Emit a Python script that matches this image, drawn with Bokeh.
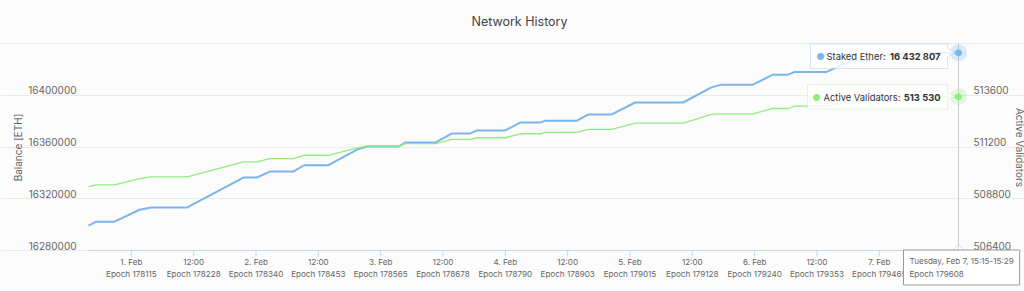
import math
import pandas as pd
from bokeh.plotting import figure
from bokeh.core.properties import value
from bokeh.models import Range1d, FixedTicker, Grid, Label, PolyAnnotation
from bokeh.embed import file_html
from bokeh.resources import INLINE

# ---------------- data ----------------
times = [
    "2023-01-31 15:45", "2023-01-31 17:15", "2023-01-31 20:45", "2023-02-01 01:35",
    "2023-02-01 03:50", "2023-02-01 10:45", "2023-02-01 21:35", "2023-02-02 00:10",
    "2023-02-02 02:40", "2023-02-02 07:10", "2023-02-02 09:15", "2023-02-02 13:55",
    "2023-02-02 19:45", "2023-02-02 21:25", "2023-02-03 03:30", "2023-02-03 04:50",
    "2023-02-03 10:35", "2023-02-03 13:45", "2023-02-03 17:15", "2023-02-03 18:35",
    "2023-02-04 00:00", "2023-02-04 02:55", "2023-02-04 06:45", "2023-02-04 07:40",
    "2023-02-04 13:45", "2023-02-04 16:00", "2023-02-04 20:30", "2023-02-05 01:00",
    "2023-02-05 10:15", "2023-02-05 15:40", "2023-02-05 17:35", "2023-02-05 23:40",
    "2023-02-06 03:30", "2023-02-06 06:25", "2023-02-06 07:40", "2023-02-06 13:45",
    "2023-02-06 18:15", "2023-02-06 21:40", "2023-02-07 02:30", "2023-02-07 15:15",
]
staked_ether = [
    16299200, 16302300, 16302300, 16311500, 16313300, 16313300, 16336400, 16336400,
    16341000, 16341000, 16345900, 16345900, 16358500, 16360400, 16360400, 16363500,
    16363500, 16370500, 16370500, 16372800, 16372800, 16379000, 16379000, 16380200,
    16380200, 16385200, 16385200, 16394400, 16394400, 16406100, 16408200, 16408200,
    16415900, 16415900, 16417900, 16417900, 16426200, 16426200, 16431900, 16432807,
]
active_validators = [
    509367, 509446, 509446, 509737, 509815, 509815, 510508, 510508,
    510660, 510660, 510817, 510817, 511168, 511246, 511246, 511352,
    511352, 511555, 511555, 511629, 511629, 511814, 511814, 511878,
    511878, 512017, 512017, 512308, 512308, 512709, 512737, 512737,
    512986, 512986, 513092, 513092, 513300, 513300, 513462, 513530,
]
tick_times = [
    "2023-02-01 00:00", "2023-02-01 12:00", "2023-02-02 00:00", "2023-02-02 12:00",
    "2023-02-03 00:00", "2023-02-03 12:00", "2023-02-04 00:00", "2023-02-04 12:00",
    "2023-02-05 00:00", "2023-02-05 12:00", "2023-02-06 00:00", "2023-02-06 12:00",
    "2023-02-07 00:00", "2023-02-07 12:00",
]
tick_dates = ["1. Feb", "12:00", "2. Feb", "12:00", "3. Feb", "12:00", "4. Feb",
              "12:00", "5. Feb", "12:00", "6. Feb", "12:00", "7. Feb", "12:00"]
tick_epochs = [178115, 178228, 178340, 178453, 178565, 178678, 178790,
               178903, 179015, 179128, 179240, 179353, 179465, 179578]
balance_ticks = [16280000, 16320000, 16360000, 16400000, 16440000]
validator_ticks = [506400, 508800, 511200, 513600, 516000]
hover_time_text = "Tuesday, Feb 7, 15:15-15:29"
hover_epoch = 179608

# ---------------- styling ----------------
BG = "#fcfcfc"
FONT = "Inter"
BLUE = "#7cb5ec"
GREEN = "#90ed7d"
GRID = "#ebebeb"
AXIS = "#ccd6eb"
LBL = "#666666"

def ms(s):
    return int(pd.Timestamp(s).value // 10**6)

xs = [ms(t) for t in times]
xt = [ms(t) for t in tick_times]
x0, x1 = xs[0], xs[-1]

# plot-area placement on the 1024x291 canvas (pixels)
W, H = 1024, 291
FL, FR, FT, FB = 88, 958, 43, 250
ms_per_px = (x1 - x0) / (FR - FL)
y_lo, y_hi = balance_ticks[0], balance_ticks[-1]
v_lo, v_hi = validator_ticks[0], validator_ticks[-1]
u_per_px = (y_hi - y_lo) / (FB - FT)
v_per_px = (v_hi - v_lo) / (FB - FT)

def X(px):
    return x0 + (px - FL) * ms_per_px

def Y(py):
    return y_hi - (py - FT) * u_per_px

def V(py):
    return v_hi - (py - FT) * v_per_px

p = figure(width=W, height=H, x_range=Range1d(X(0), X(W)), y_range=Range1d(Y(H), Y(0)),
           x_axis_location=None, y_axis_location=None,
           output_backend="svg", toolbar_location=None, min_border=0,
           background_fill_color=BG, border_fill_color=BG, outline_line_color=None)
p.extra_y_ranges = {"val": Range1d(V(H), V(0))}
for g in p.grid:
    g.visible = False

# grid (left-axis ticks), limited to the plot area
p.add_layout(Grid(dimension=1, ticker=FixedTicker(ticks=balance_ticks), bounds=(x0, x1),
                  grid_line_color=GRID, grid_line_width=1))

# x axis: line, ticks, two-row labels
n = len(xt)
TICK_FS = "8.1px"
p.segment(x0=[x0], y0=[y_lo], x1=[x1], y1=[y_lo], line_color=AXIS, line_width=1)
p.segment(x0=xt, y0=[y_lo] * n, x1=xt, y1=[Y(FB + 6)] * n, line_color=AXIS, line_width=1)
p.text(x=xt, y=[y_lo] * n, text=tick_dates, y_offset=11,
       text_font=value(FONT), text_font_size=TICK_FS, text_color=LBL,
       text_align="center", text_baseline="middle")
p.text(x=xt, y=[y_lo] * n, text=[f"Epoch {e}" for e in tick_epochs], y_offset=23,
       text_font=value(FONT), text_font_size=TICK_FS, text_color=LBL,
       text_align="center", text_baseline="middle")

# left axis labels
lb = balance_ticks[:-1]
p.text(x=[x0] * len(lb), y=lb, text=[str(v) for v in lb], x_offset=-12, y_offset=-5,
       text_font=value(FONT), text_font_size="10px", text_color=LBL,
       text_align="right", text_baseline="middle")
p.add_layout(Label(x=X(17), y=Y(147), text="Balance [ETH]", angle=math.pi / 2,
                   text_font=FONT, text_font_size="10px", text_color=LBL,
                   text_align="center", text_baseline="middle"))

# right axis labels
rb = validator_ticks[:-1]
p.text(x=[x1] * len(rb), y=rb, text=[str(v) for v in rb], x_offset=15, y_offset=-5,
       y_range_name="val",
       text_font=value(FONT), text_font_size="10px", text_color=LBL,
       text_align="left", text_baseline="middle")
p.add_layout(Label(x=X(1019), y=Y(147), text="Active Validators", angle=-math.pi / 2,
                   text_font=FONT, text_font_size="10px", text_color=LBL,
                   text_align="center", text_baseline="middle"))

# title
p.add_layout(Label(x=X(519), y=Y(21), text="Network History", text_font=FONT,
                   text_font_size="12.5px", text_color="#444444",
                   text_align="center", text_baseline="middle"))

# series
p.line(xs, staked_ether, line_color=BLUE, line_width=2)
p.line(xs, active_validators, y_range_name="val", line_color=GREEN, line_width=1.3)

# crosshair
p.segment(x0=[x1], y0=[y_lo], x1=[x1], y1=[y_hi], line_color="#cccccc", line_width=1)

# hover markers
p.scatter([x1], [staked_ether[-1]], size=17, fill_color=BLUE, fill_alpha=0.25, line_color=None)
p.scatter([x1], [staked_ether[-1]], size=6, fill_color=BLUE, line_color=BLUE)
p.scatter([x1], [active_validators[-1]], y_range_name="val", size=17, fill_color=GREEN,
          fill_alpha=0.25, line_color=None)
p.scatter([x1], [active_validators[-1]], y_range_name="val", size=6, fill_color=GREEN,
          line_color=GREEN)

def fmt(v):
    return f"{v:,}".replace(",", " ")

def callout(left, right, top, bottom, py, color):
    pts = [(left, top), (right, top), (right, py - 4), (FR - 3, py), (right, py + 4),
           (right, bottom), (left, bottom)]
    p.add_layout(PolyAnnotation(xs=[X(a) for a, b in pts], ys=[Y(b) for a, b in pts],
                                fill_color="#ffffff", fill_alpha=0.82,
                                line_color=color, line_width=1, level="overlay"))

callout(810, 947, 43.5, 68, 52, BLUE)
callout(807, 947, 84, 108.5, 96, GREEN)

def tip_text(dot_px, name_px, val_right_px, py, color, name, val):
    common = dict(text_font=FONT, text_font_size="9.4px", text_baseline="middle", level="overlay")
    p.add_layout(Label(x=X(dot_px), y=Y(py), text="●", text_color=color, text_align="center", **common))
    p.add_layout(Label(x=X(name_px), y=Y(py), text=name, text_color="#333333", text_align="left", **common))
    p.add_layout(Label(x=X(val_right_px), y=Y(py), text=val, text_color="#333333", text_align="right",
                       text_font_style="bold", **common))

tip_text(820, 826, 940, 56, BLUE, "Staked Ether: ", fmt(staked_ether[-1]))
tip_text(816, 823, 940, 96.5, GREEN, "Active Validators: ", fmt(active_validators[-1]))

# x hover label below the axis
p.add_layout(PolyAnnotation(xs=[X(952), X(FR), X(964)], ys=[Y(250), Y(244), Y(250)],
                            fill_color="#ffffff", line_color="#999999", line_width=1, level="overlay"))
p.add_layout(Label(x=X(903), y=Y(249.5), text=f"{hover_time_text}\nEpoch {hover_epoch}",
                   text_font=FONT, text_font_size="8.1px", text_color="#666666",
                   text_align="left", text_baseline="top", padding=6, text_line_height=1.3,
                   background_fill_color="#ffffff", border_line_color="#999999",
                   border_line_width=1, level="overlay"))

open("out.html", "w").write(file_html(p, INLINE))
